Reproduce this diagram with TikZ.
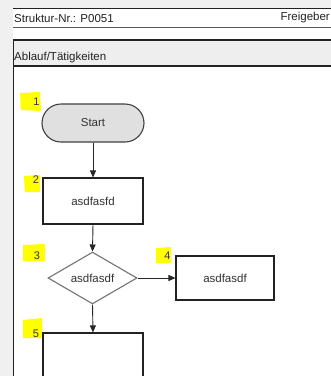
\documentclass[tikz,border=0pt]{standalone}
\usepackage{fontspec}
\setmainfont{Liberation Sans}
\usetikzlibrary{shapes.geometric,arrows.meta}
\definecolor{outerbg}{HTML}{F0F0F0}
\definecolor{bandbg}{HTML}{EEEEEE}
\definecolor{termfill}{HTML}{E0E0E0}
\definecolor{txt}{HTML}{333333}
\definecolor{linedark}{HTML}{222222}
\definecolor{hl}{HTML}{FFFF00}
\tikzset{
  lbl/.style={font=\fontsize{11.5}{13}\selectfont, text=txt, inner sep=0pt},
  hdr/.style={font=\fontsize{11.5}{13}\selectfont, text=linedark, inner sep=0pt},
  boxnode/.style={draw=linedark, line width=1.1pt, fill=white, font=\fontsize{11.5}{13}\selectfont, text=txt, inner sep=0pt},
  term/.style={boxnode, fill=termfill, draw=black!75, rounded corners=19pt, minimum width=102pt, minimum height=38pt},
  dec/.style={boxnode, diamond, draw=black!55, line width=1.1pt, minimum width=89pt, minimum height=44pt},
  flow/.style={draw=black!85, line width=0.9pt, -{Triangle[length=7pt,width=6pt]}},
  numtxt/.style={font=\fontsize{11}{13}\selectfont, text=black!80, inner sep=0pt},
}
\begin{document}
\begin{tikzpicture}[x=1pt,y=-1pt]
\useasboundingbox (0,0) rectangle (331,376);
\clip (0,0) rectangle (331,376);
% backgrounds
\fill[outerbg] (0,0) rectangle (331,376);
\fill[white] (13,8) rectangle (331,376);
\fill[bandbg] (13,40) rectangle (331,66);
% frame lines
\draw[linedark, line width=1pt] (13,8) -- (331,8);
\draw[black!65, line width=1pt] (13,27.5) -- (331,27.5);
\draw[linedark, line width=1.1pt] (13,40) -- (331,40);
\draw[linedark, line width=1.1pt] (13,66) -- (331,66);
\draw[linedark, line width=1.1pt] (13.5,40) -- (13.5,376);
% header texts
\node[hdr, anchor=west] (struktur) at (14,18) {Struktur-Nr.: P0051};
\node[hdr, anchor=east] (freigeber) at (330,18) {Freigeber};
\node[hdr, anchor=west] (ablauf) at (14,58) {Ablauf/Tätigkeiten};
% yellow highlights
\fill[hl] (20,93) -- (40,92) -- (41,111) -- (21,110) -- cycle;
\fill[hl] (24,176) -- (40,175) -- (40,192) -- (25,192) -- cycle;
\fill[hl] (23,245) -- (45,244) -- (45,261) -- (23,261) -- cycle;
\fill[hl] (156,248) -- (171,247) -- (171,263) -- (156,263) -- cycle;
\fill[hl] (23,320) -- (42,318) -- (43,338) -- (23,338) -- cycle;
\node[numtxt] (n1) at (36.5,102) {1};
\node[numtxt] (n2) at (36,180) {2};
\node[numtxt] (n3) at (37,256) {3};
\node[numtxt] (n4) at (167.5,256) {4};
\node[numtxt] (n5) at (36,334) {5};
% flowchart nodes
\node[term] (start) at (93,123) {Start};
\node[boxnode, minimum width=100pt, minimum height=46pt] (b2) at (93,201) {asdfasfd};
\node[dec] (d3) at (92.5,278) {asdfasdf};
\node[boxnode, minimum width=98pt, minimum height=44pt] (b4) at (225,278) {asdfasdf};
\node[boxnode, minimum width=100pt, minimum height=80pt] (b5) at (93,373) {};
% connectors
\draw[flow] (start.south) -- (b2.north);
\draw[flow] (b2.south) -- (d3.north);
\draw[flow] (d3.east) -- (b4.west);
\draw[flow] (d3.south) -- (b5.north);
\end{tikzpicture}
\end{document}
